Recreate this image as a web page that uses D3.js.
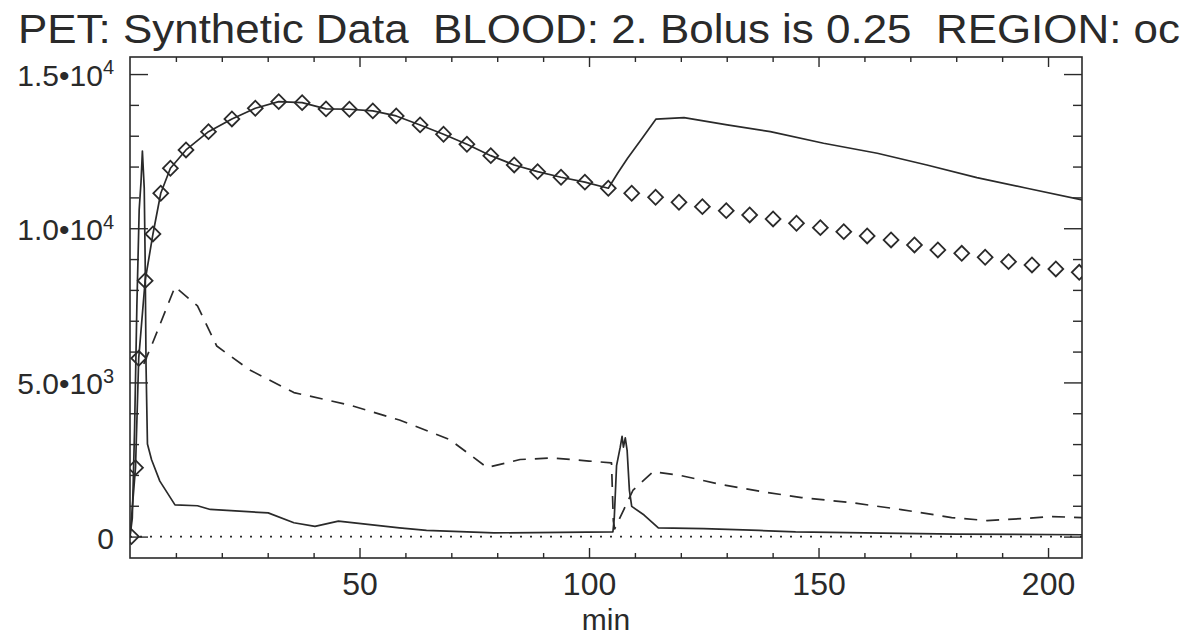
<!DOCTYPE html>
<html>
<head>
<meta charset="utf-8">
<script src="https://cdn.jsdelivr.net/npm/d3@7/dist/d3.min.js"></script>
<style>
body { margin: 0; background: #fff; }
svg text { font-family: "Liberation Sans", Arial, sans-serif; fill: #2a2a2a; }
.title { white-space: pre; }
.line { fill: none; stroke: #2a2a2a; stroke-width: 1.7; stroke-linejoin: round; }
.axis path { display: none; }
.axis line { stroke: #2a2a2a; stroke-width: 1.4; }
</style>
</head>
<body>
<svg width="1202" height="637"></svg>
<script>
// PET synthetic data: time (min) vs activity

const title = "PET: Synthetic Data  BLOOD: 2. Bolus is 0.25  REGION: oc";
const xLabel = "min";

const xMajorTicks = [50, 100, 150, 200];
const xMinorTicks = [10, 20, 30, 40, 60, 70, 80, 90, 110, 120, 130, 140, 160, 170, 180, 190];
const yMajorTicks = [0, 5000, 10000, 15000];
const yMinorTicks = [1000, 2000, 3000, 4000, 6000, 7000, 8000, 9000, 11000, 12000, 13000, 14000];
const yTickMantissa = ["0", "5.0\u202210", "1.0\u202210", "1.5\u202210"];
const yTickExp = ["", "3", "4", "4"];

// measured tissue (diamonds)
const tissue = [
  [0.3, 0], [1.2, 2235], [1.9, 5783], [3.3, 8300], [5.0, 9814], [6.7, 11134], [8.8, 11945],
  [12.2, 12539], [17.1, 13132], [22.2, 13544], [27.3, 13891], [32.4, 14105], [37.5, 14073],
  [42.7, 13869], [47.8, 13859], [52.9, 13804], [58.0, 13642], [63.2, 13350], [68.3, 13048],
  [73.4, 12724], [78.6, 12354], [83.7, 12052], [88.8, 11835], [93.9, 11653], [99.1, 11495],
  [104.2, 11297], [109.3, 11135], [114.5, 11005], [119.6, 10843], [124.7, 10700], [129.9, 10570],
  [135.0, 10431], [140.1, 10301], [145.2, 10162], [150.4, 10019], [155.5, 9889], [160.6, 9750],
  [165.8, 9620], [170.9, 9458], [176.0, 9296], [181.2, 9188], [186.3, 9059], [191.4, 8916],
  [196.5, 8809], [201.7, 8679], [206.8, 8572]
];

// model curve (solid, follows tissue then second bolus)
const model = [
  [0, 0], [1.2, 2235], [1.9, 5783], [3.3, 8300], [5.0, 9814], [6.7, 11134], [8.8, 11945],
  [12.2, 12539], [17.1, 13132], [22.2, 13544], [27.3, 13891], [32.4, 14105], [37.5, 14073],
  [42.7, 13869], [47.8, 13859], [52.9, 13804], [58.0, 13642], [63.2, 13350], [68.3, 13048],
  [73.4, 12724], [78.6, 12354], [83.7, 12052], [88.8, 11835], [93.9, 11653], [99.1, 11495],
  [104.2, 11297], [106.3, 11800], [108.4, 12270], [111.5, 12900], [114.6, 13539], [120.7, 13585],
  [130.1, 13350], [139.5, 13133], [151.1, 12756], [162.8, 12432], [173.6, 12052], [184.5, 11641],
  [195.4, 11297], [207.4, 10920]
];

// blood input (solid)
const blood = [
  [0, 0], [0.5, 600], [1.0, 3500], [1.5, 7500], [2.0, 10600], [2.4, 11500], [2.7, 12500],
  [2.9, 11900], [3.1, 11300], [3.3, 9000], [3.5, 5500], [3.8, 3000], [4.7, 2490], [6.5, 1800],
  [9.8, 1030], [14.7, 1000], [17.5, 880], [30.1, 770], [35.7, 450], [40.3, 330], [45.4, 500],
  [58.7, 280], [64.6, 200], [79.3, 120], [105.2, 150], [105.5, 600], [106.0, 2300], [106.8, 2900],
  [107.2, 3250], [107.5, 2900], [107.9, 3200], [108.3, 2800], [108.8, 1500], [109.3, 980],
  [112.0, 700], [115.1, 280], [125.0, 260], [137.0, 200], [145.0, 150], [160.0, 120],
  [180.0, 80], [207.4, 60]
];

// second tissue curve (dashed)
const dashed = [
  [3.0, 5600], [4.9, 6270], [9.8, 8100], [14.7, 7480], [18.9, 6180], [25.9, 5420], [35.7, 4670],
  [47.8, 4268], [58.7, 3780], [69.6, 3150], [77.8, 2240], [85.0, 2500], [92.1, 2550],
  [100.0, 2450], [104.9, 2390], [105.3, 500], [105.6, 250], [109.6, 1511], [114.0, 2105],
  [120.0, 1980], [128.8, 1690], [137.6, 1460], [146.3, 1266], [157.2, 1100], [168.0, 877],
  [179.0, 617], [186.7, 520], [194.3, 584], [200.9, 650], [207.4, 617]
];

const svg = d3.select("svg"),
  plotLeft = 130, plotRight = 1082, plotTop = 57, plotBottom = 558;

const x = d3.scaleLinear().domain([0, 207.4]).range([plotLeft, plotRight]);
const y = d3.scaleLinear().domain([-694, 15553]).range([plotBottom, plotTop]);

svg.append("clipPath").attr("id", "plotClip")
  .append("rect").attr("x", plotLeft).attr("y", plotTop)
  .attr("width", plotRight - plotLeft).attr("height", plotBottom - plotTop);

const plot = svg.append("g").attr("clip-path", "url(#plotClip)");

const line = d3.line()
  .x(d => x(d[0]))
  .y(d => y(d[1]));

// zero line
plot.append("path")
  .datum([[0, 0], [207.4, 0]])
  .attr("class", "line")
  .attr("stroke-dasharray", "2,8")
  .attr("stroke-width", 2)
  .attr("d", line);

plot.append("path").datum(blood).attr("class", "line").attr("d", line);
plot.append("path").datum(model).attr("class", "line").attr("d", line);
plot.append("path").datum(dashed).attr("class", "line")
  .attr("stroke-dasharray", "13,9").attr("d", line);

// diamonds
plot.selectAll(".diamond")
  .data(tissue)
  .enter().append("path")
  .attr("class", "diamond")
  .attr("d", d3.symbol().type(d3.symbolSquare).size(110))
  .attr("transform", d => `translate(${x(d[0])},${y(d[1])}) rotate(45)`)
  .attr("fill", "none")
  .attr("stroke", "#2a2a2a")
  .attr("stroke-width", 1.8);

// frame
svg.append("rect")
  .attr("x", plotLeft).attr("y", plotTop)
  .attr("width", plotRight - plotLeft).attr("height", plotBottom - plotTop)
  .attr("fill", "none").attr("stroke", "#2a2a2a").attr("stroke-width", 1.6);

// x axes (bottom with labels, top without)
const xb = svg.append("g").attr("class", "axis")
  .attr("transform", `translate(0,${plotBottom})`)
  .call(d3.axisBottom(x).tickValues(xMajorTicks).tickSize(-10).tickPadding(14).tickFormat(d3.format("d")));
xb.selectAll("text").attr("font-size", 32);

svg.append("g").attr("class", "axis")
  .attr("transform", `translate(0,${plotBottom})`)
  .call(d3.axisBottom(x).tickValues(xMinorTicks).tickSize(-5).tickFormat(""));
svg.append("g").attr("class", "axis")
  .attr("transform", `translate(0,${plotTop})`)
  .call(d3.axisTop(x).tickValues(xMajorTicks).tickSize(-10).tickFormat(""));
svg.append("g").attr("class", "axis")
  .attr("transform", `translate(0,${plotTop})`)
  .call(d3.axisTop(x).tickValues(xMinorTicks).tickSize(-5).tickFormat(""));

// y axes
const yl = svg.append("g").attr("class", "axis")
  .attr("transform", `translate(${plotLeft},0)`)
  .call(d3.axisLeft(y).tickValues(yMajorTicks).tickSize(-18).tickPadding(16).tickFormat(""));
yl.selectAll(".tick text").each(function(d, i) {
  const t = d3.select(this).attr("font-size", 30).attr("dy", "0.38em");
  t.append("tspan").text(yTickMantissa[i]);
  if (yTickExp[i]) {
    t.append("tspan").attr("font-size", 20).attr("dy", "-0.58em").text(yTickExp[i]);
  }
});

svg.append("g").attr("class", "axis")
  .attr("transform", `translate(${plotLeft},0)`)
  .call(d3.axisLeft(y).tickValues(yMinorTicks).tickSize(-9).tickFormat(""));
svg.append("g").attr("class", "axis")
  .attr("transform", `translate(${plotRight},0)`)
  .call(d3.axisRight(y).tickValues(yMajorTicks).tickSize(-18).tickFormat(""));
svg.append("g").attr("class", "axis")
  .attr("transform", `translate(${plotRight},0)`)
  .call(d3.axisRight(y).tickValues(yMinorTicks).tickSize(-9).tickFormat(""));

// axis title and chart title
svg.append("text")
  .attr("x", (plotLeft + plotRight) / 2)
  .attr("y", 630)
  .attr("text-anchor", "middle")
  .attr("font-size", 30)
  .text(xLabel);

svg.append("text")
  .attr("class", "title")
  .attr("x", 18)
  .attr("y", 43)
  .attr("font-size", 41)
  .attr("textLength", 1162)
  .attr("lengthAdjust", "spacingAndGlyphs")
  .text(title);
</script>
</body>
</html>
